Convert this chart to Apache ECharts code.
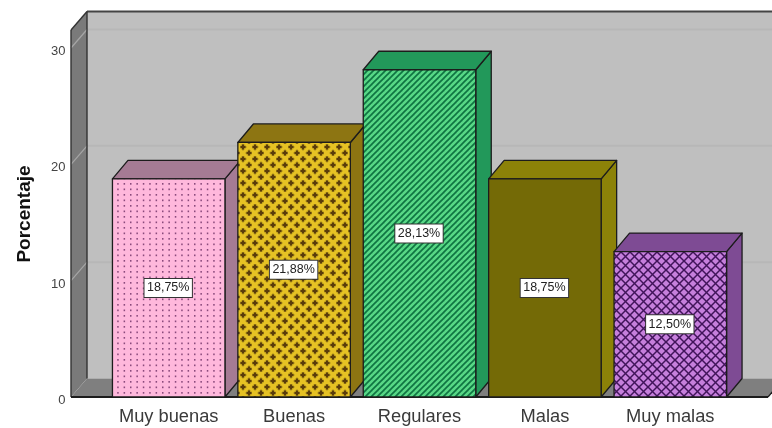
<!DOCTYPE html>
<html>
<head>
<meta charset="utf-8">
<style>html,body{margin:0;padding:0;background:#fff}#chart{width:772px;height:428px}</style>
<script src="https://cdn.jsdelivr.net/npm/echarts@6/dist/echarts.min.js"></script>
</head>
<body>
<div id="chart"></div>
<script>
const categories = ['Muy buenas', 'Buenas', 'Regulares', 'Malas', 'Muy malas'];
const percentages = [18.75, 21.88, 28.13, 18.75, 12.50];
const yTicks = [0, 10, 20, 30];
const yAxisTitle = 'Porcentaje';
const wallTopValue = 31.55;

const frontColors = ['#ffb8dc', '#e6c224', '#58d886', '#746a06', '#c67fdc'];
const sideColors = ['#a57b94', '#8d7512', '#22985a', '#8c8208', '#7e4b94'];
const DEPTH_X = 15.5, DEPTH_Y = -18.5;
const WALL_LEFT = 71, WALL_RIGHT = 768, BAR_WIDTH = 112.5;

function tile(w, h, bg, paint) {
  const c = document.createElement('canvas');
  c.width = w; c.height = h;
  const g = c.getContext('2d');
  g.fillStyle = bg; g.fillRect(0, 0, w, h);
  paint(g);
  return { image: c, repeat: 'repeat' };
}

// Hatch fills for the front faces
const dotted = tile(32, 11, frontColors[0], g => {
  g.fillStyle = '#8a4a7c';
  for (let i = 0; i < 5; i++) {
    g.fillRect(i * 6.4 + 2, 1.5, 1.5, 1.7);
    g.fillRect(i * 6.4 + 2, 7, 1.5, 1.7);
  }
});
const crosses = tile(12, 12, frontColors[1], g => {
  [[3, 3], [9, 9]].forEach(([x, y]) => {
    g.fillStyle = '#b89a1c';
    g.beginPath();
    g.moveTo(x, y - 4); g.lineTo(x + 4, y); g.lineTo(x, y + 4); g.lineTo(x - 4, y);
    g.closePath(); g.fill();
    g.fillStyle = '#5a3c0a';
    g.fillRect(x - 1, y - 2.5, 2, 5);
    g.fillRect(x - 2.5, y - 1, 5, 2);
  });
});
const stripes = tile(6, 6, frontColors[2], g => {
  g.strokeStyle = '#0f7442'; g.lineWidth = 1.7;
  [[-6, 6, 6, -6], [0, 6, 6, 0], [0, 12, 12, 0]].forEach(s => {
    g.beginPath(); g.moveTo(s[0], s[1]); g.lineTo(s[2], s[3]); g.stroke();
  });
});
const lattice = tile(9, 9, frontColors[4], g => {
  g.strokeStyle = '#41145a'; g.lineWidth = 1.5;
  [[0, 9, 9, 0], [-9, 9, 9, -9], [0, 18, 18, 0], [0, 0, 9, 9], [-9, 0, 9, 18], [0, -9, 18, 9]].forEach(s => {
    g.beginPath(); g.moveTo(s[0], s[1]); g.lineTo(s[2], s[3]); g.stroke();
  });
});
const frontFills = [dotted, crosses, stripes, frontColors[3], lattice];

const edge = { stroke: '#1c1c1c', lineWidth: 1.3, lineJoin: 'round' };

function poly(points, fill, lineStyle) {
  return { type: 'polygon', shape: { points }, style: Object.assign({ fill }, lineStyle || { stroke: 'none' }) };
}
function line(x1, y1, x2, y2, stroke, lineWidth) {
  return { type: 'line', shape: { x1, y1, x2, y2 }, style: { stroke, lineWidth } };
}

// Back wall, left wall, floor and the gridlines that run across them
function renderRoom(params, api) {
  const base = api.coord([0, 0])[1];
  const top = api.coord([0, wallTopValue])[1];
  const bx = WALL_LEFT + DEPTH_X + 0.5;
  const parts = [
    { type: 'rect', shape: { x: bx, y: top + DEPTH_Y, width: 800, height: base - top }, style: { fill: '#bfbfbf' } },
    poly([[WALL_LEFT, top], [bx, top + DEPTH_Y], [bx, base + DEPTH_Y], [WALL_LEFT, base]], '#7a7a7a'),
    poly([[WALL_LEFT, base], [WALL_RIGHT, base], [WALL_RIGHT + DEPTH_X, base + DEPTH_Y], [bx, base + DEPTH_Y]], '#7f7f7f')
  ];
  yTicks.filter(t => t > 0).forEach(t => {
    const y = api.coord([0, t])[1];
    parts.push(line(bx, y + DEPTH_Y, 800, y + DEPTH_Y, '#b7b7b7', 2));
    parts.push(line(WALL_LEFT, y, bx, y + DEPTH_Y, '#a6a6a6', 1.2));
  });
  parts.push(line(WALL_LEFT, top, bx, top + DEPTH_Y, '#333', 1.4));
  parts.push(line(bx, top + DEPTH_Y, 800, top + DEPTH_Y, '#444', 2));
  parts.push(line(WALL_LEFT, top, WALL_LEFT, base, '#333', 1.4));
  parts.push(line(bx, top + DEPTH_Y, bx, base + DEPTH_Y, '#333', 1.4));
  parts.push(line(WALL_LEFT, base, WALL_RIGHT, base, '#1c1c1c', 2));
  parts.push(line(WALL_RIGHT, base, WALL_RIGHT + DEPTH_X, base + DEPTH_Y, '#1c1c1c', 1.2));
  return { type: 'group', children: parts };
}

// One extruded bar with its front hatch and value tag
function renderBar(params, api) {
  const i = api.value(0);
  const v = api.value(1);
  const c = api.coord([i, v]);
  const b = api.coord([i, 0]);
  const x0 = c[0] - BAR_WIDTH / 2, x1 = c[0] + BAR_WIDTH / 2;
  const top = c[1], base = b[1];
  return {
    type: 'group',
    children: [
      poly([[x1, top], [x1 + DEPTH_X, top + DEPTH_Y], [x1 + DEPTH_X, base + DEPTH_Y], [x1, base]], sideColors[i], edge),
      poly([[x0, top], [x0 + DEPTH_X, top + DEPTH_Y], [x1 + DEPTH_X, top + DEPTH_Y], [x1, top]], sideColors[i], edge),
      { type: 'rect', shape: { x: x0, y: top, width: BAR_WIDTH, height: base - top },
        style: Object.assign({ fill: frontFills[i] }, edge) },
      { type: 'text', x: c[0] - 0.5, y: (top + base) / 2,
        style: {
          text: v.toFixed(2).replace('.', ',') + '%',
          font: '12.5px "Liberation Sans"', fill: '#222', align: 'center', verticalAlign: 'middle',
          backgroundColor: '#fff', borderColor: '#333', borderWidth: 1, padding: [2.5, 2.5, 2.5, 2.5]
        } }
    ]
  };
}

const chart = echarts.init(document.getElementById('chart'));
chart.setOption({
  animation: false,
  backgroundColor: '#fff',
  grid: { left: 106, right: 39, top: 48, bottom: 31 },
  xAxis: {
    type: 'category', data: categories,
    axisLine: { show: false }, axisTick: { show: false }, splitLine: { show: false },
    axisLabel: { color: '#3a3a3a', fontFamily: 'Liberation Sans', fontSize: 18.3, margin: 11, interval: 0 }
  },
  yAxis: {
    type: 'value', min: 0, max: 30, interval: 10,
    name: yAxisTitle, nameLocation: 'middle', nameGap: 71.5, nameRotate: 90,
    nameTextStyle: { color: '#111', fontFamily: 'Liberation Sans', fontWeight: 'bold', fontSize: 19, padding: [0, 0, 0, 17] },
    axisLine: { show: false }, axisTick: { show: false }, splitLine: { show: false },
    axisLabel: { color: '#444', fontFamily: 'Liberation Sans', fontSize: 13, margin: 40.5, verticalAlign: 'top', padding: [-3, 0, 0, 0] }
  },
  series: [
    { type: 'custom', silent: true, z: 1, data: [[0, 0]], renderItem: renderRoom },
    { type: 'custom', silent: true, z: 2, data: percentages.map((v, i) => [i, v]), renderItem: renderBar }
  ]
});
</script>
</body>
</html>
